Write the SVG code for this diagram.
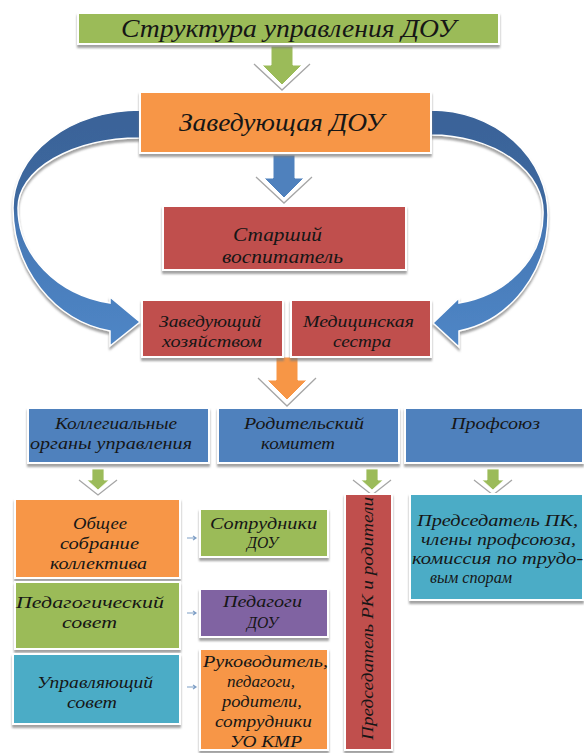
<svg xmlns="http://www.w3.org/2000/svg" width="584" height="753" viewBox="0 0 584 753">
<defs>
<style>
.bx{stroke:#fff;stroke-width:2;filter:url(#sh)}
.t{font-family:"Liberation Serif","DejaVu Serif",serif;font-style:italic;fill:#161616}
.s16{font-size:16px}
.s17{font-size:17px}
.s19{font-size:19px}
.s25{font-size:25px}
.v{fill:none;stroke:#a6a6a6;stroke-width:1.3}
.arc{stroke:#fff;stroke-width:1.5;filter:url(#sh)}
.sm{stroke:#7f9fc6;stroke-width:1.2;fill:none}
</style>
<filter id="sh" x="-10%" y="-10%" width="120%" height="130%">
<feDropShadow dx="0" dy="3" stdDeviation="1.2" flood-color="#7a7a7a" flood-opacity="0.7"/>
</filter>
<linearGradient id="gl" gradientUnits="userSpaceOnUse" x1="0" y1="110" x2="0" y2="346">
<stop offset="0" stop-color="#3a6398"/>
<stop offset="0.4" stop-color="#3d689f"/>
<stop offset="0.48" stop-color="#4678b5"/>
<stop offset="1" stop-color="#4f86c6"/>
</linearGradient>
<linearGradient id="gr" gradientUnits="userSpaceOnUse" x1="0" y1="110" x2="0" y2="347">
<stop offset="0" stop-color="#3a6398"/>
<stop offset="0.42" stop-color="#3d689f"/>
<stop offset="0.5" stop-color="#4678b5"/>
<stop offset="1" stop-color="#4f86c6"/>
</linearGradient>
</defs>
<rect width="584" height="753" fill="#fff"/>

<g id="connectors">
<path class="arc" fill="url(#gl)" d="M140,110 A127,98 0 0 0 13,208 A117,125 0 0 0 110,331 L110,346 L140,322 L110,297 L110,303 A112,97 0 0 1 18,208 A122,70 0 0 1 140,138 Z"/>
<path class="arc" fill="url(#gr)" d="M431,110 A117,105 0 0 1 548,215 A109,118 0 0 1 459,331 L459,347 L433,323 L459,298 L459,303 A104,90 0 0 0 543,215 A112,77 0 0 0 431,135 Z"/>
<polyline class="v" points="254,64 282,90 310,64"/>
<path fill="#9bbb59" stroke="#fff" stroke-width="1" d="M271,46 H293 V65 H302 L282,85 L262,65 H271 Z"/>
<polyline class="v" points="256,177 284,203 312,177"/>
<path fill="#4f81bd" stroke="#fff" stroke-width="1" d="M273,155 H295 V178 H304 L284,198 L264,178 H273 Z"/>
<polyline class="v" points="258,378 287,406 316,378"/>
<path fill="#f79646" stroke="#fff" stroke-width="1" d="M276,357 H298 V380 H307 L287,400 L267,380 H276 Z"/>
<polyline class="v" points="79,480 98,495 117,480"/>
<path fill="#9bbb59" stroke="#fff" stroke-width="0.8" d="M92,469 H104 V480 H109 L98,490 L87,480 H92 Z"/>
<polyline class="v" points="353,480 372,495 391,480"/>
<path fill="#9bbb59" stroke="#fff" stroke-width="0.8" d="M366,469 H378 V480 H383 L372,490 L361,480 H366 Z"/>
<polyline class="v" points="474,480 493,495 512,480"/>
<path fill="#9bbb59" stroke="#fff" stroke-width="0.8" d="M487,469 H499 V480 H504 L493,490 L482,480 H487 Z"/>
<path class="sm" d="M187,538 H196 M193,536 L196,538 L193,540"/>
<path class="sm" d="M187,613 H196 M193,611 L196,613 L193,615"/>
<path class="sm" d="M187,687 H196 M193,685 L196,687 L193,689"/>
</g>

<g id="title">
<rect class="bx" x="78" y="13" width="421" height="31" fill="#9bbb59"/>
<text class="t s25" x="121" y="37" textLength="335" lengthAdjust="spacingAndGlyphs">Структура управления ДОУ</text>
</g>

<g id="head">
<rect class="bx" x="140" y="92" width="291" height="61" fill="#f79646"/>
<text class="t s25" x="179" y="131" textLength="205" lengthAdjust="spacingAndGlyphs">Заведующая ДОУ</text>
</g>

<g id="senior">
<rect class="bx" x="163" y="206" width="243" height="64" fill="#c0504d"/>
<text class="t s19" x="233" y="241" textLength="89" lengthAdjust="spacingAndGlyphs">Старший</text>
<text class="t s19" x="222" y="263" textLength="121" lengthAdjust="spacingAndGlyphs">воспитатель</text>
</g>

<g id="supply">
<rect class="bx" x="142" y="300" width="141" height="57" fill="#c0504d"/>
<text class="t s17" x="159" y="327" textLength="102" lengthAdjust="spacingAndGlyphs">Заведующий</text>
<text class="t s17" x="162" y="347" textLength="100" lengthAdjust="spacingAndGlyphs">хозяйством</text>
</g>

<g id="nurse">
<rect class="bx" x="291" y="300" width="140" height="57" fill="#c0504d"/>
<text class="t s17" x="303" y="327" textLength="111" lengthAdjust="spacingAndGlyphs">Медицинская</text>
<text class="t s17" x="333" y="347" textLength="58" lengthAdjust="spacingAndGlyphs">сестра</text>
</g>

<g id="collegial">
<rect class="bx" x="28" y="408" width="181" height="55" fill="#4f81bd"/>
<text class="t s17" x="55" y="429" textLength="122" lengthAdjust="spacingAndGlyphs">Коллегиальные</text>
<text class="t s17" x="30" y="449" textLength="162" lengthAdjust="spacingAndGlyphs">органы управления</text>
</g>

<g id="parents">
<rect class="bx" x="218" y="408" width="181" height="55" fill="#4f81bd"/>
<text class="t s17" x="244" y="429" textLength="120" lengthAdjust="spacingAndGlyphs">Родительский</text>
<text class="t s17" x="261" y="449" textLength="74" lengthAdjust="spacingAndGlyphs">комитет</text>
</g>

<g id="union">
<rect class="bx" x="405" y="408" width="178" height="55" fill="#4f81bd"/>
<text class="t s17" x="451" y="429" textLength="89" lengthAdjust="spacingAndGlyphs">Профсоюз</text>
</g>

<g id="general-meeting">
<rect class="bx" x="15" y="499" width="165" height="79" fill="#f79646"/>
<text class="t s17" x="73" y="529" textLength="54" lengthAdjust="spacingAndGlyphs">Общее</text>
<text class="t s17" x="60" y="549" textLength="79" lengthAdjust="spacingAndGlyphs">собрание</text>
<text class="t s17" x="50" y="569" textLength="97" lengthAdjust="spacingAndGlyphs">коллектива</text>
</g>

<g id="ped-council">
<rect class="bx" x="15" y="582" width="165" height="67" fill="#9bbb59"/>
<text class="t s17" x="16" y="608" textLength="148" lengthAdjust="spacingAndGlyphs">Педагогический</text>
<text class="t s17" x="62" y="628" textLength="55" lengthAdjust="spacingAndGlyphs">совет</text>
</g>

<g id="gov-council">
<rect class="bx" x="13" y="654" width="167" height="70" fill="#4bacc6"/>
<text class="t s17" x="37" y="688" textLength="116" lengthAdjust="spacingAndGlyphs">Управляющий</text>
<text class="t s17" x="67" y="708" textLength="50" lengthAdjust="spacingAndGlyphs">совет</text>
</g>

<g id="staff">
<rect class="bx" x="200" y="509" width="128" height="48" fill="#9bbb59"/>
<text class="t s17" x="210" y="529" textLength="107" lengthAdjust="spacingAndGlyphs">Сотрудники</text>
<text class="t s17" x="247" y="548" textLength="31" lengthAdjust="spacingAndGlyphs">ДОУ</text>
</g>

<g id="teachers">
<rect class="bx" x="200" y="589" width="128" height="48" fill="#8064a2"/>
<text class="t s17" x="223" y="607" textLength="79" lengthAdjust="spacingAndGlyphs">Педагоги</text>
<text class="t s17" x="247" y="628" textLength="31" lengthAdjust="spacingAndGlyphs">ДОУ</text>
</g>

<g id="council-members">
<rect class="bx" x="200" y="649" width="128" height="101" fill="#f79646"/>
<text class="t s17" x="203" y="667" textLength="125" lengthAdjust="spacingAndGlyphs">Руководитель,</text>
<text class="t s17" x="227" y="687" textLength="68" lengthAdjust="spacingAndGlyphs">педагоги,</text>
<text class="t s17" x="222" y="707" textLength="80" lengthAdjust="spacingAndGlyphs">родители,</text>
<text class="t s17" x="215" y="727" textLength="97" lengthAdjust="spacingAndGlyphs">сотрудники</text>
<text class="t s17" x="230" y="747" textLength="72" lengthAdjust="spacingAndGlyphs">УО КМР</text>
</g>

<g id="rk-chair">
<rect class="bx" x="345" y="494" width="47" height="256" fill="#c0504d"/>
<text class="t s17" transform="translate(373,740) rotate(-90)" x="0" y="0" textLength="243" lengthAdjust="spacingAndGlyphs">Председатель РК и родители</text>
</g>

<g id="pk-chair">
<rect class="bx" x="410" y="494" width="173" height="106" fill="#4bacc6"/>
<text class="t s16" x="417" y="526" textLength="161" lengthAdjust="spacingAndGlyphs">Председатель ПК,</text>
<text class="t s16" x="421" y="545" textLength="155" lengthAdjust="spacingAndGlyphs">члены профсоюза,</text>
<text class="t s16" x="412" y="564" textLength="171" lengthAdjust="spacingAndGlyphs">комиссия по трудо-</text>
<text class="t s16" x="430" y="583" textLength="82" lengthAdjust="spacingAndGlyphs">вым спорам</text>
</g>
</svg>
